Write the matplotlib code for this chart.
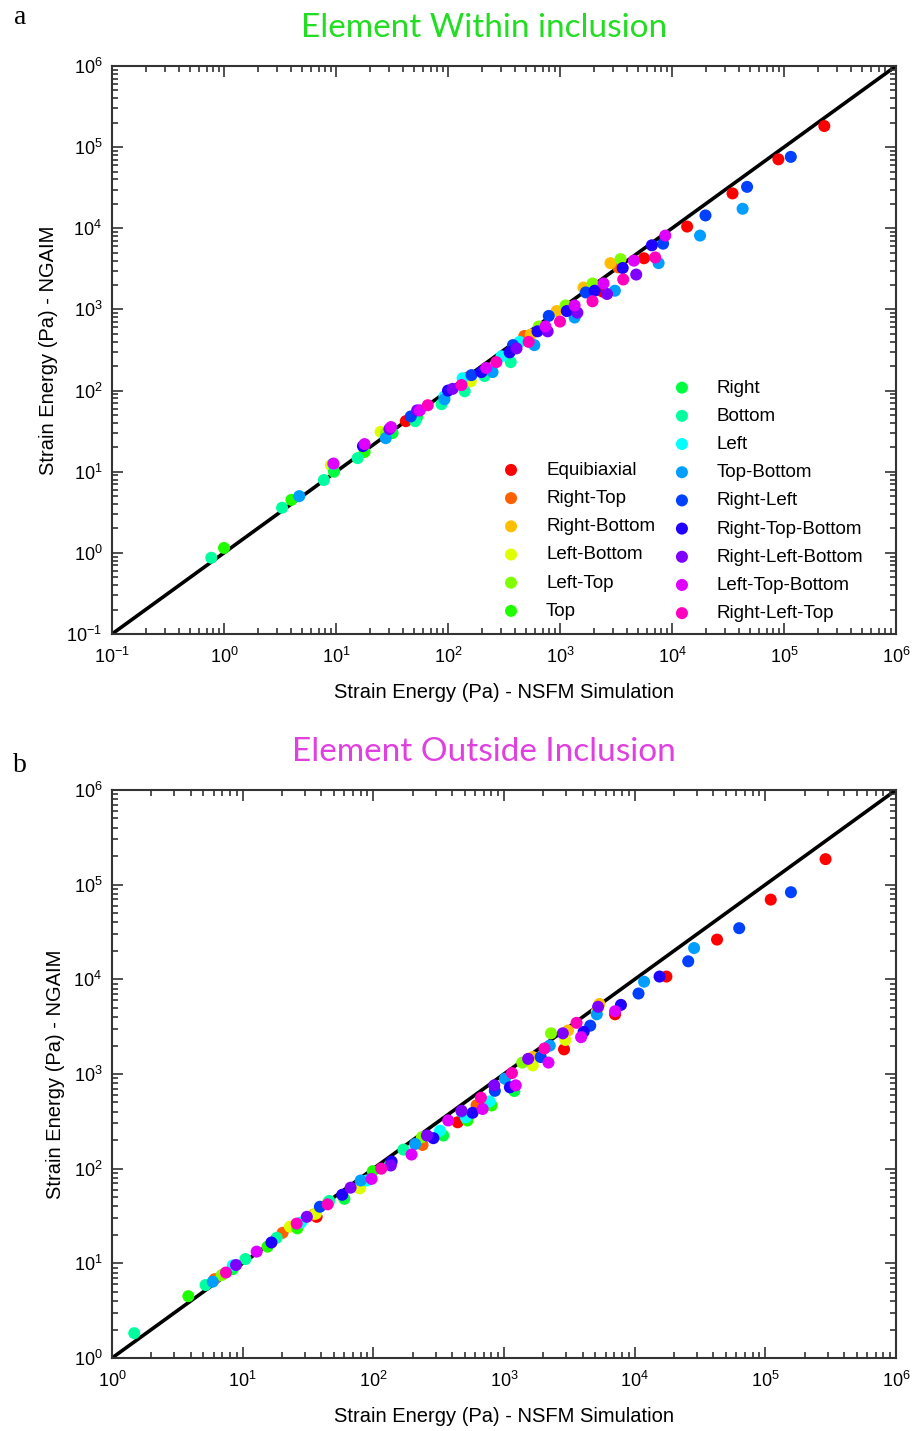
import colorsys
import matplotlib
matplotlib.use("Agg")
import matplotlib.pyplot as plt
import numpy as np
from matplotlib.ticker import FixedLocator, FuncFormatter, NullFormatter

plt.rcParams['font.family'] = ['Liberation Sans', 'DejaVu Sans']
plt.rcParams['mathtext.fontset'] = 'custom'
plt.rcParams['mathtext.rm'] = 'Liberation Sans'
plt.rcParams['axes.unicode_minus'] = False

# ---------------------------------------------------------------- categories
categories = ["Equibiaxial", "Right-Top", "Right-Bottom", "Left-Bottom", "Left-Top",
              "Top", "Right", "Bottom", "Left", "Top-Bottom", "Right-Left",
              "Right-Top-Bottom", "Right-Left-Bottom", "Left-Top-Bottom", "Right-Left-Top"]
legend_left = categories[:6]
legend_right = categories[6:]

# ------------------------------------------- (a) element within inclusion
# strain energy (Pa): NSFM simulation (x) vs NGAIM (y)
within_x = {
    "Equibiaxial": [42, 2400, 5620, 13650, 34700, 89100, 229000],
    "Right-Top": [9.3, 30, 150, 480, 3310],
    "Right-Bottom": [548, 933, 1620, 2820],
    "Left-Bottom": [9.0, 25, 29, 160],
    "Left-Top": [28, 646, 1120, 1950, 3470],
    "Top": [1.0, 4.0, 18],
    "Right": [9.6, 32, 53],
    "Bottom": [0.77, 3.3, 7.8, 15.6, 51, 87.5, 141, 212, 363],
    "Left": [9.4, 93, 135, 300, 436],
    "Top-Bottom": [4.7, 27.8, 93, 250, 590, 1350, 3090, 7590, 17800, 42700],
    "Right-Left": [46.5, 162, 380, 794, 1700, 8320, 19900, 46800, 115000],
    "Right-Top-Bottom": [17.4, 100, 199, 355, 630, 1150, 2040, 3630, 6610],
    "Right-Left-Bottom": [30, 53, 110, 409, 776, 1430, 2630, 4790],
    "Left-Top-Bottom": [9.5, 18, 31, 56, 219, 741, 1350, 2450, 4570, 8710],
    "Right-Left-Top": [66, 132, 270, 525, 1000, 1950, 3670, 7080],
}
within_y = {
    "Equibiaxial": [42, 1660, 4270, 10500, 26900, 70800, 182000],
    "Right-Top": [11.5, 32, 145, 470, 3300],
    "Right-Bottom": [490, 955, 1860, 3720],
    "Left-Bottom": [12.1, 31, 31.6, 130],
    "Left-Top": [30, 617, 1120, 2090, 4170],
    "Top": [1.15, 4.5, 17.5],
    "Right": [10, 30, 47],
    "Bottom": [0.87, 3.6, 7.9, 14.7, 42, 68, 98, 151, 224],
    "Left": [12.5, 85, 142, 264, 398],
    "Top-Bottom": [5.0, 25.9, 78, 169, 363, 794, 1700, 3720, 8130, 17400],
    "Right-Left": [48, 155, 363, 832, 1620, 6460, 14400, 32400, 75900],
    "Right-Top-Bottom": [20.7, 100, 169, 296, 537, 955, 1700, 3240, 6170],
    "Right-Left-Bottom": [33.6, 57, 105, 331, 537, 912, 1550, 2690],
    "Left-Top-Bottom": [12.6, 21.9, 35.5, 57, 190, 617, 1120, 2090, 3990, 8130],
    "Right-Left-Top": [66, 117, 224, 398, 708, 1260, 2340, 4370],
}

# ------------------------------------------ (b) element outside inclusion
outside_x = {
    "Equibiaxial": [36.8, 442, 2880, 7080, 17500, 42700, 110000, 289000],
    "Right-Top": [6.1, 20.2, 78, 238, 617],
    "Right-Bottom": [35, 1660, 3090, 5370],
    "Left-Bottom": [23, 36.4, 79, 1660, 2950, 5130],
    "Left-Top": [6.9, 45, 235, 1380, 2290],
    "Top": [3.84, 15.5, 26.2, 99, 525, 804],
    "Right": [8.4, 60, 343, 1200],
    "Bottom": [1.48, 5.2, 10.5, 18.2, 46, 134, 170],
    "Left": [8.4, 28, 89, 324, 510, 776],
    "Top-Bottom": [5.9, 80, 209, 473, 1016, 2240, 5130, 11800, 28500],
    "Right-Left": [39, 851, 1910, 4570, 10700, 25700, 63100, 157000],
    "Right-Top-Bottom": [16.6, 57.8, 138, 288, 575, 1109, 4070, 7850, 15500],
    "Right-Left-Bottom": [8.9, 31, 67, 136, 257, 473, 842, 1530, 2820, 5250],
    "Left-Top-Bottom": [12.8, 97, 196, 374, 686, 1230, 2190, 3890, 7080],
    "Right-Left-Top": [7.45, 25.9, 44.7, 115, 666, 1150, 2040, 3590],
}
outside_y = {
    "Equibiaxial": [31, 309, 1820, 4270, 10700, 26300, 69500, 186000],
    "Right-Top": [6.8, 21, 63, 178, 468],
    "Right-Bottom": [33, 1510, 2880, 5490],
    "Left-Bottom": [24.4, 33.6, 62, 1230, 2290, 4540],
    "Left-Top": [7.5, 44, 215, 1320, 2690],
    "Top": [4.5, 15, 23.4, 94, 323, 465],
    "Right": [8.7, 48, 224, 661],
    "Bottom": [1.83, 5.9, 11.1, 18.6, 45.6, 110, 159],
    "Left": [9.5, 27, 75, 252, 349, 513],
    "Top-Bottom": [6.4, 75, 182, 400, 891, 1995, 4270, 9440, 21400],
    "Right-Left": [39.6, 664, 1510, 3240, 7080, 15500, 34700, 83200],
    "Right-Top-Bottom": [16.6, 53, 119, 210, 389, 724, 2790, 5370, 10700],
    "Right-Left-Bottom": [9.6, 31, 63, 108, 224, 409, 759, 1445, 2690, 5130],
    "Left-Top-Bottom": [13.3, 78, 141, 323, 427, 759, 1320, 2450, 4600],
    "Right-Left-Top": [8.0, 26.3, 42, 100, 562, 1023, 1860, 3470],
}

# hue wheel split in 16 steps, first 15 used
colors = {c: colorsys.hsv_to_rgb(i / 16.0, 1.0, 1.0) for i, c in enumerate(categories)}

W, H = 914, 1431
fig = plt.figure(figsize=(W / 100, H / 100), dpi=100)

ax_left = 112 / W
ax_w = 784 / W
ax_h = 568 / H
ax_a = fig.add_axes([ax_left, 1 - 634 / H, ax_w, ax_h])
ax_b = fig.add_axes([ax_left, 1 - 1358 / H, ax_w, ax_h])


def fmt(v, pos):
    e = int(round(np.log10(v)))
    return r'$\mathregular{10^{%d}}$' % e


def style_axes(ax, lo_exp, hi_exp):
    lo, hi = 10.0 ** lo_exp, 10.0 ** hi_exp
    ax.set_xscale('log')
    ax.set_yscale('log')
    ax.set_xlim(lo, hi)
    ax.set_ylim(lo, hi)
    decades = 10.0 ** np.arange(lo_exp, hi_exp + 1)
    minors = np.array([d * m for d in decades[:-1] for m in range(2, 10)])
    for axis in (ax.xaxis, ax.yaxis):
        axis.set_major_locator(FixedLocator(decades))
        axis.set_minor_locator(FixedLocator(minors))
        axis.set_major_formatter(FuncFormatter(fmt))
        axis.set_minor_formatter(NullFormatter())
    ax.tick_params(which='both', direction='in', top=True, right=True,
                   color='#333333', width=1.2, labelsize=13)
    ax.tick_params(which='major', length=8)
    ax.tick_params(axis='x', which='major', pad=9)
    ax.tick_params(axis='y', which='major', pad=7)
    ax.tick_params(which='minor', length=4.5)
    for s in ax.spines.values():
        s.set_color('#333333')
        s.set_linewidth(1.5)
    ax.set_xlabel('Strain Energy (Pa) - NSFM Simulation', fontsize=14.5, labelpad=12)
    ax.set_ylabel('Strain Energy (Pa) - NGAIM', fontsize=14.5, labelpad=6)
    return lo, hi


def draw(ax, xs, ys, lo, hi):
    ident = np.array([lo, hi])
    ax.plot(ident, ident, color='black', lw=2.6, zorder=1)
    handles = {}
    for c in categories:
        handles[c] = ax.scatter(xs[c], ys[c], s=75, color=colors[c],
                                edgecolors='none', zorder=2, label=c)
    return handles


lo_a, hi_a = style_axes(ax_a, -1, 6)
lo_b, hi_b = style_axes(ax_b, 0, 6)
h_a = draw(ax_a, within_x, within_y, lo_a, hi_a)
draw(ax_b, outside_x, outside_y, lo_b, hi_b)

leg_kw = dict(frameon=False, fontsize=13.5, handlelength=1.0, handletextpad=1.37,
              labelspacing=0.59, borderpad=0, borderaxespad=0, scatterpoints=1,
              loc='lower left')
leg1 = ax_a.legend([h_a[c] for c in legend_left], legend_left,
                   bbox_to_anchor=(0.497, 0.025), **leg_kw)
ax_a.add_artist(leg1)
ax_a.legend([h_a[c] for c in legend_right], legend_right,
            bbox_to_anchor=(0.715, 0.021), **leg_kw)

fig.text(484 / W, 1 - 28 / H, 'Element Within inclusion', color='#22DD22',
         fontsize=24, family='Lato', ha='center', va='center')
fig.text(484 / W, 1 - 752 / H, 'Element Outside Inclusion', color='#E040E0',
         fontsize=24, family='Lato', ha='center', va='center')
fig.text(20 / W, 1 - 18 / H, 'a', fontsize=20, family='Liberation Serif',
         ha='center', va='center')
fig.text(20 / W, 1 - 765 / H, 'b', fontsize=20, family='Liberation Serif',
         ha='center', va='center')

fig.savefig('out.png', dpi=100, facecolor='white')
